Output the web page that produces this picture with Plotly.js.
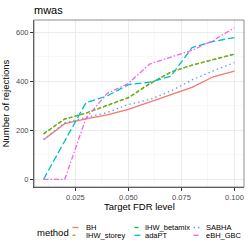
<!DOCTYPE html>
<html><head><meta charset="utf-8">
<script src="https://cdn.plot.ly/plotly-3.0.1.min.js"></script>
<style>html,body{margin:0;padding:0;background:#fff;} #chart{width:249px;height:249px;}</style>
</head><body><div id="chart"></div>
<script>
// Data
const fdrLevels = [0.01, 0.02, 0.03, 0.04, 0.05, 0.06, 0.07, 0.08, 0.09, 0.10];
const BH          = [161, 227, 246, 263, 285, 315, 342, 375, 418, 441];
const IHW_betamix = [186, 246, 270, 300, 333, 390, 437, 465, 487, 510];
const IHW_storey  = [184, 245, 269, 299, 332, 388, 436, 466, 488, 511];
const SABHA       = [161, 231, 252, 272, 305, 325, 360, 405, 442, 476];
const adaPT       = [0, 155, 312, 340, 386, 396, 420, 537, 562, 578];
const eBH_GBC     = [0, 0, 249, 350, 391, 470, 498, 526, 566, 618];

const methodNames = ['BH', 'IHW_betamix', 'IHW_storey', 'SABHA', 'adaPT', 'eBH_GBC'];
const methodValues = [BH, IHW_betamix, IHW_storey, SABHA, adaPT, eBH_GBC];
const methodColors = ['#F8766D', '#00BA38', '#B79F00', '#619CFF', '#00BFC4', '#F564E3'];
const methodDash = ['solid', '4px,2px', '3px,3px', '1.5px,3px', '7px,3px', '5px,2px,1.5px,2px'];

const xTicks = [0.025, 0.050, 0.075, 0.100];
const xTickText = ['0.025', '0.050', '0.075', '0.100'];
const yTicks = [0, 200, 400, 600];
const yTickText = ['0', '200', '400', '600'];

const legendOrder = ['BH', 'IHW_storey', 'IHW_betamix', 'adaPT', 'SABHA', 'eBH_GBC'];

const W = 249, H = 249;
const M = {l: 34, r: 5, t: 20, b: 0};
const PANEL_BOTTOM = 187;
const PW = W - M.l - M.r, PH = H - M.t - M.b;
const FONT = 'Liberation Sans, Arial, sans-serif';

const traces = methodNames.map((n, i) => ({
  type: 'scatter', mode: 'lines', name: n,
  x: fdrLevels, y: methodValues[i],
  line: {color: methodColors[i], width: 1.3, dash: methodDash[i]},
  showlegend: false, hoverinfo: 'skip'
}));

function px2x(px) { return (px - M.l) / PW; }
function py2y(py) { return (H - M.b - py) / PH; }
const yDomain0 = py2y(PANEL_BOTTOM);

const shapes = [
  {type: 'rect', xref: 'paper', yref: 'paper', x0: 0, x1: 1, y0: yDomain0, y1: 1,
   line: {color: '#8c8c8c', width: 1}, fillcolor: 'rgba(0,0,0,0)', layer: 'above'}
];
const annotations = [
  {text: 'method', xref: 'paper', yref: 'paper', x: px2x(35), y: py2y(232),
   xanchor: 'left', yanchor: 'middle', showarrow: false,
   font: {family: FONT, size: 9.5, color: '#000'}},
  {text: 'Target FDR level', xref: 'paper', yref: 'paper', x: 0.5, y: py2y(206.5),
   xanchor: 'center', yanchor: 'middle', showarrow: false,
   font: {family: FONT, size: 9.5, color: '#000'}}
];
const colKeyX = [72.5, 134.5, 193.5];
const colLabelX = [84, 142.5, 204];
const rowY = [227.5, 235.3];
legendOrder.forEach((n, k) => {
  const i = methodNames.indexOf(n);
  const col = Math.floor(k / 2), row = k % 2;
  shapes.push({type: 'line', xref: 'paper', yref: 'paper',
    x0: px2x(colKeyX[col]), x1: px2x(colKeyX[col] + 6),
    y0: py2y(rowY[row]), y1: py2y(rowY[row]),
    line: {color: methodColors[i], width: 1.3, dash: methodDash[i]}});
  annotations.push({text: n, xref: 'paper', yref: 'paper',
    x: px2x(colLabelX[col]), y: py2y(rowY[row]),
    xanchor: 'left', yanchor: 'middle', showarrow: false,
    font: {family: FONT, size: 7.5, color: '#000'}});
});

const layout = {
  width: W, height: H,
  margin: M,
  paper_bgcolor: '#fff', plot_bgcolor: '#fff',
  font: {family: FONT, color: '#000'},
  title: {text: 'mwas', font: {family: FONT, size: 11, color: '#000'},
          x: 34 / W, xanchor: 'left', xref: 'container',
          y: 1 - 10 / H, yanchor: 'middle', yref: 'container'},
  xaxis: {
    range: [0.0055, 0.1045], tickvals: xTicks, ticktext: xTickText,
    ticks: 'outside', ticklen: 3, tickcolor: '#333', tickwidth: 1,
    tickfont: {family: FONT, size: 7.5, color: '#4D4D4D'},
    showgrid: true, gridcolor: '#EBEBEB', gridwidth: 1, zeroline: false,
    showline: true, linecolor: '#333', linewidth: 1, automargin: false,
    minor: {dtick: 0.0125, tick0: 0, showgrid: true, gridcolor: '#F3F3F3', gridwidth: 0.6}
  },
  yaxis: {
    domain: [yDomain0, 1],
    range: [-31.5, 649.5], tickvals: yTicks, ticktext: yTickText,
    ticks: 'outside', ticklen: 3, tickcolor: '#333', tickwidth: 1,
    tickfont: {family: FONT, size: 7.5, color: '#4D4D4D'},
    showgrid: true, gridcolor: '#EBEBEB', gridwidth: 1, zeroline: false,
    showline: true, linecolor: '#333', linewidth: 1, automargin: false,
    minor: {dtick: 100, tick0: 0, showgrid: true, gridcolor: '#F3F3F3', gridwidth: 0.6},
    title: {text: 'Number of rejections', font: {family: FONT, size: 9.5, color: '#000'}}
  },
  shapes: shapes,
  annotations: annotations,
  showlegend: false
};

Plotly.newPlot('chart', traces, layout, {staticPlot: true, displayModeBar: false});
</script>
</body></html>
